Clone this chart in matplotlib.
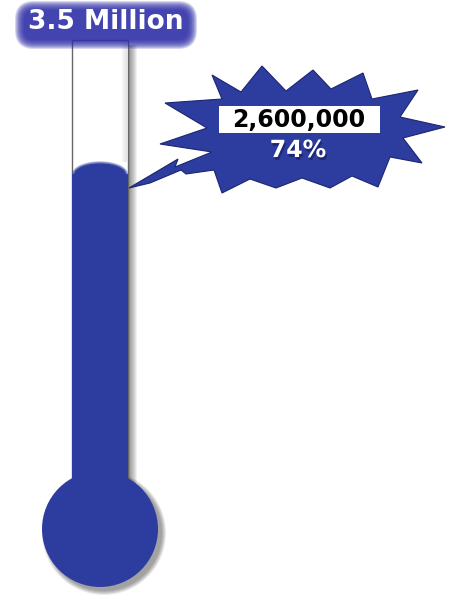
import matplotlib
matplotlib.use('Agg')
import matplotlib.pyplot as plt
import matplotlib.patches as mpatches
import matplotlib.patheffects as pe

# data
goal = 3500000
raised = 2600000
goal_label = '3.5 Million'
raised_label = '{:,}'.format(raised)
pct_label = '{:.0f}%'.format(raised / goal * 100)

BLUE = '#2d3c9f'


def main():
    fig = plt.figure(figsize=(4.58, 5.98), dpi=100)
    ax = fig.add_axes([0, 0, 1, 1])
    ax.set_xlim(0, 458)
    ax.set_ylim(598, 0)
    ax.axis('off')

    # thermometer geometry (pixels)
    x0, x1 = 72, 128
    tube_top = 40
    scale_base, scale_top = 478, 53
    bulb_cx, bulb_cy, bulb_r = 100, 529, 58

    # value -> y position on the tube
    level = scale_base - raised / goal * (scale_base - scale_top)

    # tube shadow on the right
    for k in range(9):
        ax.add_patch(mpatches.Rectangle((x1, tube_top + 5), k + 1, scale_base - tube_top,
                                        color='black', alpha=0.06, lw=0, zorder=1))
    # bulb shadow
    for k in range(6):
        ax.add_patch(mpatches.Circle((bulb_cx + 4, bulb_cy + 4), bulb_r + k * 0.8,
                                     color='black', alpha=0.07, lw=0, zorder=1))

    # tube
    ax.add_patch(mpatches.Rectangle((x0, tube_top), x1 - x0, scale_base - tube_top + 10,
                                    facecolor='white', edgecolor='#666666', lw=1.0, zorder=2))
    # inner shading of tube
    for k in range(5):
        ax.add_patch(mpatches.Rectangle((x1 - 2 - k, tube_top), 1, level - tube_top,
                                        color='#999999', alpha=0.25 - k * 0.04, lw=0, zorder=2))

    # mercury
    cap_h = 12
    ax.add_patch(mpatches.Circle((bulb_cx, bulb_cy), bulb_r, facecolor=BLUE,
                                 edgecolor='none', zorder=3))
    ax.add_patch(mpatches.Rectangle((x0, level + cap_h), x1 - x0, scale_base - level + 20,
                                    color=BLUE, lw=0, zorder=3))
    for k in range(4):
        ax.add_patch(mpatches.Ellipse(((x0 + x1) / 2, level + cap_h), x1 - x0 - k * 1.5,
                                      2 * cap_h + 2 - k * 1.5, color=BLUE,
                                      alpha=0.35 if k < 3 else 1, lw=0, zorder=3))

    # goal label with glow
    for k in range(10):
        pad = 11 - k
        ax.add_patch(mpatches.FancyBboxPatch((26 - pad, 12 - pad), 160 + 2 * pad, 26 + 2 * pad,
                                             boxstyle='round,pad=0,rounding_size=%d' % (8 + pad),
                                             color='#3030a8', alpha=0.2, lw=0, zorder=5))
    ax.text(106, 22, goal_label, color='white', fontsize=19, fontweight='bold',
            ha='center', va='center', zorder=6)

    # starburst callout
    burst = [(129, 188), (178, 159), (175, 167), (212, 152), (160, 144), (207, 128),
             (165, 103), (222, 99), (212, 75), (241, 92), (262, 66), (286, 91),
             (313, 70), (331, 89), (363, 73), (372, 99), (418, 90), (400, 117),
             (445, 127), (403, 138), (422, 163), (390, 157), (378, 187), (352, 176),
             (330, 188), (302, 178), (276, 188), (250, 179), (222, 193), (214, 170),
             (186, 174), (181, 170), (150, 183)]
    ax.add_patch(mpatches.Polygon(burst, closed=True, facecolor=BLUE,
                                  edgecolor='#1c2570', lw=0.8, zorder=5))
    ax.add_patch(mpatches.Rectangle((219, 106), 161, 27, facecolor='white',
                                    edgecolor='none', zorder=6))
    ax.text(299, 120, raised_label, color='black', fontsize=17, fontweight='bold',
            ha='center', va='center', zorder=7)
    ax.text(298, 150, pct_label, color='white', fontsize=17, fontweight='bold',
            ha='center', va='center', zorder=7,
            path_effects=[pe.withSimplePatchShadow(offset=(1, -2), shadow_rgbFace='#101a5a',
                                                   alpha=0.6)])

    fig.savefig('out.png', dpi=100)


if __name__ == '__main__':
    main()
